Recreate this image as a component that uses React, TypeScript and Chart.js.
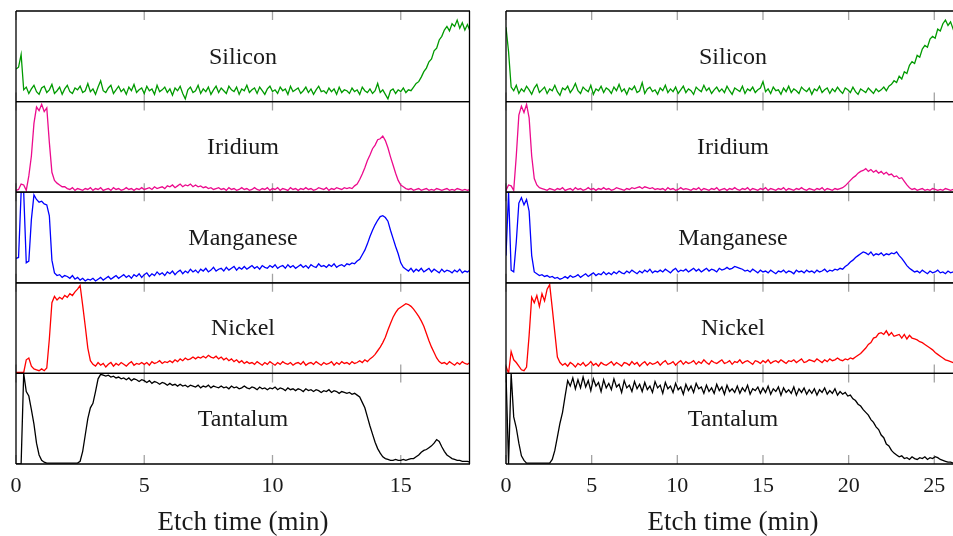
import React, { useEffect, useRef } from "react";
import { Chart, registerables } from "chart.js";

Chart.register(...registerables);

const FONT = "'Liberation Serif', 'DejaVu Serif', 'Times New Roman', serif";

const PANEL_NAMES = ["Silicon", "Iridium", "Manganese", "Nickel", "Tantalum"];
const PANEL_COLORS = ["#009a00", "#ec0b8d", "#0000ff", "#ff0000", "#000000"];

const X_TITLE = "Etch time (min)";
const X_TICK_STEP = 5;
const LEFT_STEP = 0.1;
const LEFT_MAX = 17.7;
const RIGHT_STEP = 0.15;
const RIGHT_MAX = 26.5;

// ---------- left column (t = i * 0.1 min), values in % of panel height ----------
const leftSilicon = [
  36, 38, 52, 13, 16, 9, 14, 18, 11, 8,
  15, 17, 10, 13, 19, 9, 12, 16, 8, 14,
  18, 11, 9, 15, 13, 17, 10, 12, 20, 11,
  14, 8, 16, 23, 12, 10, 15, 18, 9, 13,
  17, 11, 14, 8, 16, 12, 19, 10, 13, 15,
  9, 17, 12, 14, 8, 18, 11, 13, 16, 10,
  14, 7, 15, 12, 17, 9, 3, 13, 16, 10,
  12, 18, 9, 14, 11, 16, 8, 13, 17, 10,
  15, 12, 9, 17, 13, 11, 16, 8, 14, 12,
  18, 10, 13, 15, 9, 16, 12, 8, 14, 17,
  11, 13, 9, 16, 12, 14, 8, 17, 11, 13,
  15, 9, 12, 16, 10, 14, 8, 13, 17, 11,
  12, 9, 15, 11, 14, 8, 16, 10, 13, 12,
  9, 15, 11, 13, 8, 16, 12, 10, 14, 9,
  12, 20, 10, 13, 8, 3, 12, 14, 9, 13,
  11, 15, 10, 13, 12, 16, 20, 22, 27, 33,
  37, 44, 47, 56, 59, 68, 72, 79, 83, 78,
  86, 83, 90, 81, 87, 79, 85, 78,
];
const leftIridium = [
  2, 3, 9, 8, 2, 18, 40, 76, 94, 90,
  97, 89, 93, 55, 22, 13, 10, 8, 6, 6,
  4, 3, 5, 2, 4, 3, 2, 4, 3, 5,
  2, 4, 3, 5, 2, 3, 4, 2, 5, 3,
  4, 2, 3, 5, 3, 4, 2, 4, 3, 5,
  3, 4, 5, 3, 6, 4, 5, 6, 4, 7,
  6, 8, 5, 7, 9, 6, 8, 7, 9, 6,
  8, 6, 7, 5, 6, 4, 5, 3, 4, 5,
  3, 4, 2, 5, 3, 4, 2, 3, 5, 3,
  4, 2, 3, 5, 3, 2, 4, 3, 5, 2,
  4, 3, 5, 2, 4, 3, 2, 5, 3, 4,
  2, 4, 3, 5, 3, 4, 2, 3, 5, 4,
  3, 5, 2, 4, 3, 5, 4, 3, 5, 4,
  5, 4, 7, 9, 14, 20, 27, 35, 41, 48,
  52, 58, 59, 62, 57, 49, 39, 30, 21, 13,
  8, 6, 4, 3, 4, 2, 3, 4, 2, 3,
  4, 2, 3, 2, 4, 3, 2, 3, 4, 2,
  3, 2, 4, 3, 2, 3, 2, 3,
];
const leftManganese = [
  27, 28, 100, 100, 22, 24, 70, 97, 92, 89,
  90, 87, 86, 74, 25, 11, 8, 9, 6, 8,
  7, 5, 8, 4, 6, 3, 5, 2, 4, 3,
  5, 2, 4, 6, 3, 5, 7, 4, 6, 8,
  5, 7, 9, 6, 8, 5, 9, 7, 10, 6,
  9, 11, 7, 10, 8, 12, 9, 11, 8, 12,
  10, 13, 9, 12, 14, 10, 13, 11, 15, 12,
  14, 11, 15, 13, 16, 12, 14, 17, 13, 15,
  16, 13, 17, 14, 16, 18, 14, 17, 15, 18,
  15, 17, 19, 16, 18, 15, 19, 17, 16, 19,
  17, 20, 16, 18, 19, 16, 20, 17, 19, 16,
  18, 20, 17, 19, 16, 20, 18, 17, 21, 18,
  19, 17, 20, 18, 21, 17, 19, 20, 18, 21,
  20, 22, 21, 24, 26, 31, 36, 43, 51, 58,
  64, 69, 73, 74, 72, 68, 58, 49, 40, 32,
  22, 17, 15, 13, 16, 12, 15, 13, 16, 12,
  14, 16, 12, 15, 13, 11, 15, 12, 14, 13,
  11, 14, 12, 15, 11, 13, 12, 14,
];
const leftNickel = [
  1, 1, 1, 1, 15, 17, 8, 5, 4, 3,
  5, 3, 6, 38, 78, 85, 81, 84, 82, 86,
  84, 88, 86, 90, 93, 97, 75, 52, 28, 14,
  10, 8, 12, 9, 11, 7, 10, 12, 8, 11,
  9, 12, 10, 8, 11, 13, 9, 11, 10, 12,
  10, 12, 9, 13, 11, 12, 14, 11, 13, 12,
  14, 12, 15, 13, 16, 14, 17, 15, 16, 18,
  16, 18, 17, 19, 17, 20, 18, 17, 19, 16,
  18, 15, 17, 14, 16, 13, 15, 12, 14, 11,
  13, 11, 12, 10, 13, 11, 9, 12, 10, 13,
  11, 9, 12, 10, 13, 11, 10, 12, 9, 11,
  12, 10, 13, 9, 11, 12, 10, 13, 11, 9,
  12, 10, 11, 13, 9, 12, 10, 13, 11, 12,
  10, 13, 11, 12, 14, 12, 15, 13, 16, 18,
  21, 25, 29, 34, 40, 48, 55, 62, 67, 71,
  73, 75, 77, 76, 74, 71, 67, 63, 58, 52,
  44, 36, 29, 23, 17, 13, 11, 12, 10, 13,
  11, 9, 12, 10, 13, 11, 10, 12,
];
const leftTantalum = [
  0, 0, 0, 100, 80, 75, 60, 44, 23, 10,
  4, 2, 1, 1, 1, 1, 1, 1, 1, 1,
  1, 1, 1, 1, 1, 3, 14, 32, 50, 62,
  67, 80, 94, 99, 98, 97, 98, 96, 97, 95,
  96, 94, 95, 93, 95, 92, 94, 93, 91, 93,
  92, 90, 92, 89, 91, 90, 88, 90, 89, 87,
  89, 87, 88, 86, 88, 86, 87, 85, 87, 86,
  85, 87, 84, 86, 85, 87, 84, 86, 85, 84,
  86, 84, 85, 83, 86, 84, 85, 83, 84, 86,
  84, 83, 85, 84, 82, 85, 83, 84, 82, 84,
  83, 85, 82, 84, 83, 81, 84, 82, 83, 81,
  83, 82, 80, 83, 81, 82, 80, 82, 81, 79,
  81, 80, 82, 79, 81, 80, 78, 80, 79, 78,
  79, 77, 78, 76, 74, 68, 62, 52, 42, 33,
  24, 17, 12, 8, 6, 5, 4, 4, 5, 4,
  4, 5, 4, 5, 6, 6, 8, 10, 13, 15,
  16, 18, 20, 23, 27, 25, 19, 14, 10, 8,
  6, 5, 4, 4, 3, 3, 3, 2,
];

// ---------- right column (t = i * 0.15 min) ----------
const rightSilicon = [
  82, 55, 16, 12, 18, 9, 14, 11, 17, 13,
  8, 15, 19, 10, 13, 16, 9, 14, 12, 18,
  11, 7, 15, 13, 17, 10, 14, 20, 12, 9,
  16, 13, 11, 18, 8, 14, 12, 17, 10, 15,
  13, 9, 16, 12, 19, 11, 14, 8, 15, 13,
  17, 10, 12, 21, 9, 14, 16, 11, 13, 8,
  15, 12, 18, 10, 14, 11, 16, 9, 13, 17,
  10, 14, 12, 8, 16, 13, 11, 18, 12, 15,
  9, 13, 16, 11, 14, 10, 17, 12, 8, 15,
  13, 11, 17, 9, 14, 12, 16, 10, 13, 15,
  22, 11, 14, 9, 16, 12, 13, 8, 15, 11,
  17, 10, 14, 12, 9, 16, 13, 11, 15, 8,
  14, 12, 17, 10, 13, 15, 9, 14, 11, 16,
  12, 9, 15, 13, 10, 16, 11, 8, 14, 12,
  10, 15, 12, 9, 14, 11, 13, 16, 12, 17,
  19, 23, 21, 28, 25, 33, 31, 40, 44, 42,
  51, 49, 58, 62, 60, 69, 72, 70, 80, 78,
  86, 90, 84, 88, 80, 86, 79, 84,
];
const rightIridium = [
  2, 8, 7, 2, 40, 85, 95, 88, 97, 82,
  40, 15, 8, 5, 4, 3, 2, 4, 3, 2,
  4, 3, 5, 2, 3, 4, 2, 5, 3, 4,
  2, 3, 5, 3, 4, 2, 4, 3, 5, 3,
  4, 2, 3, 5, 4, 3, 2, 4, 3, 5,
  4, 5, 6, 4, 6, 5, 4, 5, 3, 4,
  3, 4, 2, 5, 3, 4, 2, 3, 5, 3,
  4, 3, 2, 4, 3, 5, 2, 4, 3, 2,
  4, 3, 5, 2, 3, 4, 2, 4, 3, 5,
  3, 2, 4, 3, 5, 2, 4, 3, 2, 4,
  3, 5, 2, 4, 3, 2, 4, 3, 5, 2,
  4, 3, 2, 4, 3, 5, 3, 2, 4, 3,
  2, 4, 3, 5, 2, 4, 3, 2, 4, 3,
  4, 5, 7, 10, 13, 16, 18, 21, 23, 24,
  26, 23, 25, 22, 24, 21, 23, 20, 22, 19,
  20, 17, 18, 15, 16, 12, 8, 5, 3, 4,
  2, 3, 4, 2, 3, 2, 4, 3, 2, 3,
  2, 4, 3, 2, 3, 2, 3, 2,
];
const rightManganese = [
  30, 100, 14, 12, 45, 88, 94, 86, 92, 79,
  30, 12, 10, 8, 9, 7, 8, 6, 7, 5,
  6, 4, 5, 7, 5, 8, 6, 7, 9, 6,
  8, 10, 7, 9, 11, 8, 10, 9, 12, 9,
  11, 9, 12, 10, 13, 11, 10, 13, 11, 14,
  12, 10, 13, 11, 14, 12, 15, 11, 13, 12,
  14, 12, 15, 13, 11, 14, 16, 12, 14, 13,
  15, 12, 14, 16, 13, 15, 12, 14, 16, 13,
  15, 14, 12, 16, 14, 15, 17, 15, 16, 18,
  17, 16, 15, 13, 14, 12, 15, 13, 11, 14,
  12, 13, 11, 14, 12, 10, 13, 12, 14, 11,
  13, 12, 10, 14, 12, 13, 11, 14, 12, 13,
  11, 14, 12, 13, 15, 12, 14, 13, 15, 14,
  16, 15, 18, 20, 23, 25, 28, 30, 32, 34,
  33, 31, 34, 30, 32, 31, 33, 30, 32, 31,
  33, 32, 34, 30, 27, 23, 19, 16, 14, 12,
  13, 11, 14, 12, 10, 13, 11, 12, 14, 11,
  12, 10, 13, 11, 12, 11, 13, 12,
];
const rightNickel = [
  8, 0, 24, 15, 12, 8, 4, 3, 7, 42,
  84, 78, 86, 74, 88, 80, 93, 98, 72, 45,
  18, 12, 9, 11, 8, 12, 10, 7, 11, 9,
  12, 8, 10, 13, 9, 11, 8, 12, 10, 9,
  11, 13, 9, 12, 10, 8, 12, 11, 9, 13,
  10, 12, 8, 11, 13, 9, 12, 10, 11, 13,
  9, 12, 14, 10, 11, 13, 9, 12, 14, 10,
  13, 11, 12, 14, 10, 13, 11, 15, 12, 10,
  14, 12, 11, 13, 15, 11, 12, 14, 10, 13,
  12, 15, 11, 13, 14, 12, 10, 14, 13, 11,
  14, 12, 15, 11, 13, 14, 12, 15, 13, 11,
  14, 13, 15, 12, 14, 16, 12, 13, 15, 14,
  13, 16, 14, 12, 15, 13, 16, 14, 15, 17,
  15, 14, 16, 15, 17, 16, 18, 20, 22, 25,
  28, 32, 34, 39, 40, 44, 45, 43, 47, 42,
  45, 41, 42, 43, 39, 43, 38, 42, 39, 38,
  37, 35, 34, 32, 30, 28, 26, 23, 21, 19,
  17, 15, 14, 13, 12, 11, 12, 10,
];
const rightTantalum = [
  100, 0, 100, 52, 40, 23, 9, 4, 1, 1,
  1, 1, 1, 1, 1, 1, 1, 1, 5, 15,
  30, 45, 57, 75, 92, 86, 95, 83, 93, 84,
  96, 85, 92, 81, 94, 86, 90, 80, 93, 84,
  89, 82, 94, 85, 88, 79, 92, 84, 87, 80,
  91, 83, 88, 80, 90, 82, 86, 79, 91, 84,
  87, 78, 90, 83, 86, 79, 89, 82, 85, 77,
  88, 81, 86, 79, 89, 83, 85, 78, 87, 80,
  84, 78, 88, 81, 85, 77, 87, 80, 83, 79,
  86, 78, 84, 80, 87, 77, 83, 81, 85, 78,
  84, 79, 86, 77, 83, 80, 85, 76, 84, 79,
  82, 78, 85, 76, 83, 79, 84, 77, 82, 78,
  83, 76, 82, 79, 84, 77, 81, 78, 83, 76,
  80, 77, 79, 75, 76, 72, 70, 66, 64, 60,
  57, 54, 49, 46, 41, 38, 32, 29, 22, 20,
  15, 12, 10, 8, 9, 6, 7, 5, 8, 6,
  5, 7, 6, 8, 5, 7, 6, 8, 7, 5,
  4, 3, 2, 2, 1, 1, 1, 1,
];

const LEFT_SERIES = [leftSilicon, leftIridium, leftManganese, leftNickel, leftTantalum];
const RIGHT_SERIES = [rightSilicon, rightIridium, rightManganese, rightNickel, rightTantalum];

function makePanelPlugin(names: string[]) {
  return {
    id: "panelFrames",
    beforeDatasetsDraw(chart: any) {
      const ctx = chart.ctx;
      const xs = chart.scales.x;
      ctx.save();
      ctx.strokeStyle = "#a3a3a3";
      ctx.lineWidth = 1.3;
      for (let k = 0; k < names.length; k++) {
        const ys = chart.scales["y" + k];
        for (const t of xs.ticks) {
          const px = xs.getPixelForValue(t.value);
          ctx.beginPath();
          ctx.moveTo(px, ys.top);
          ctx.lineTo(px, ys.top + 9);
          ctx.moveTo(px, ys.bottom);
          ctx.lineTo(px, ys.bottom - 9);
          ctx.stroke();
        }
      }
      ctx.restore();
    },
    afterDatasetsDraw(chart: any) {
      const ctx = chart.ctx;
      const area = chart.chartArea;
      ctx.save();
      ctx.strokeStyle = "#000";
      ctx.lineWidth = 1.3;
      for (let k = 0; k < names.length; k++) {
        const ys = chart.scales["y" + k];
        ctx.beginPath();
        ctx.moveTo(area.left, ys.top);
        ctx.lineTo(area.right, ys.top);
        ctx.moveTo(area.left, ys.bottom);
        ctx.lineTo(area.right, ys.bottom);
        ctx.stroke();
      }
      ctx.beginPath();
      ctx.moveTo(area.left, area.top);
      ctx.lineTo(area.left, area.bottom);
      ctx.moveTo(area.right - 0.5, area.top);
      ctx.lineTo(area.right - 0.5, area.bottom);
      ctx.stroke();
      ctx.fillStyle = "#1a1a1a";
      ctx.font = `24px ${FONT}`;
      ctx.textAlign = "center";
      ctx.textBaseline = "middle";
      const cx = (area.left + area.right) / 2;
      for (let k = 0; k < names.length; k++) {
        const ys = chart.scales["y" + k];
        ctx.fillText(names[k], cx, (ys.top + ys.bottom) / 2 + 1);
      }
      ctx.restore();
    },
  };
}

function buildConfig(series: number[][], step: number, xMax: number, padRight: number): any {
  const datasets = series.map((vals, k) => ({
    label: PANEL_NAMES[k],
    data: vals.map((v, i) => ({ x: i * step, y: v })),
    yAxisID: "y" + k,
    borderColor: PANEL_COLORS[k],
    borderWidth: 1.3,
    pointRadius: 0,
    fill: false,
    tension: 0,
  }));
  const scales: any = {
    x: {
      type: "linear",
      min: 0,
      max: xMax,
      grid: { display: false, drawTicks: false },
      border: { display: false },
      ticks: {
        stepSize: X_TICK_STEP,
        includeBounds: false,
        padding: 9,
        color: "#1a1a1a",
        font: { family: FONT, size: 22, lineHeight: 1.2 },
      },
      title: {
        display: true,
        text: X_TITLE,
        color: "#1a1a1a",
        font: { family: FONT, size: 27, lineHeight: 1 },
        padding: { top: 0.6, bottom: 0 },
      },
    },
  };
  for (let k = PANEL_NAMES.length - 1; k >= 0; k--) {
    scales["y" + k] = {
      type: "linear",
      position: "left",
      stack: "panels",
      stackWeight: 1,
      offset: false,
      min: 0,
      max: 100,
      grid: { display: false, drawTicks: false },
      border: { display: false },
      ticks: { display: false },
    };
  }
  return {
    type: "line",
    data: { datasets },
    options: {
      animation: false,
      responsive: false,
      events: [],
      layout: { padding: { left: 16, right: padRight, top: 11, bottom: 0 } },
      plugins: { legend: { display: false }, tooltip: { enabled: false } },
      scales,
    },
    plugins: [makePanelPlugin(PANEL_NAMES)],
  };
}

function Column(props: { series: number[][]; step: number; xMax: number; padRight: number; left: number; width: number }) {
  const ref = useRef<HTMLCanvasElement | null>(null);
  useEffect(() => {
    if (!ref.current) return;
    const chart = new Chart(ref.current, buildConfig(props.series, props.step, props.xMax, props.padRight));
    return () => chart.destroy();
  }, []);
  return (
    <canvas
      ref={ref}
      width={props.width}
      height={536}
      style={{ position: "absolute", left: props.left, top: 0, width: props.width, height: 536, display: "block" }}
    />
  );
}

export default function App() {
  return (
    <div style={{ position: "absolute", left: 0, top: 0, width: 953, height: 536, overflow: "hidden", background: "#fff" }}>
      <Column series={LEFT_SERIES} step={LEFT_STEP} xMax={LEFT_MAX} padRight={20} left={0} width={490} />
      <Column series={RIGHT_SERIES} step={RIGHT_STEP} xMax={RIGHT_MAX} padRight={0} left={490} width={470} />
    </div>
  );
}
